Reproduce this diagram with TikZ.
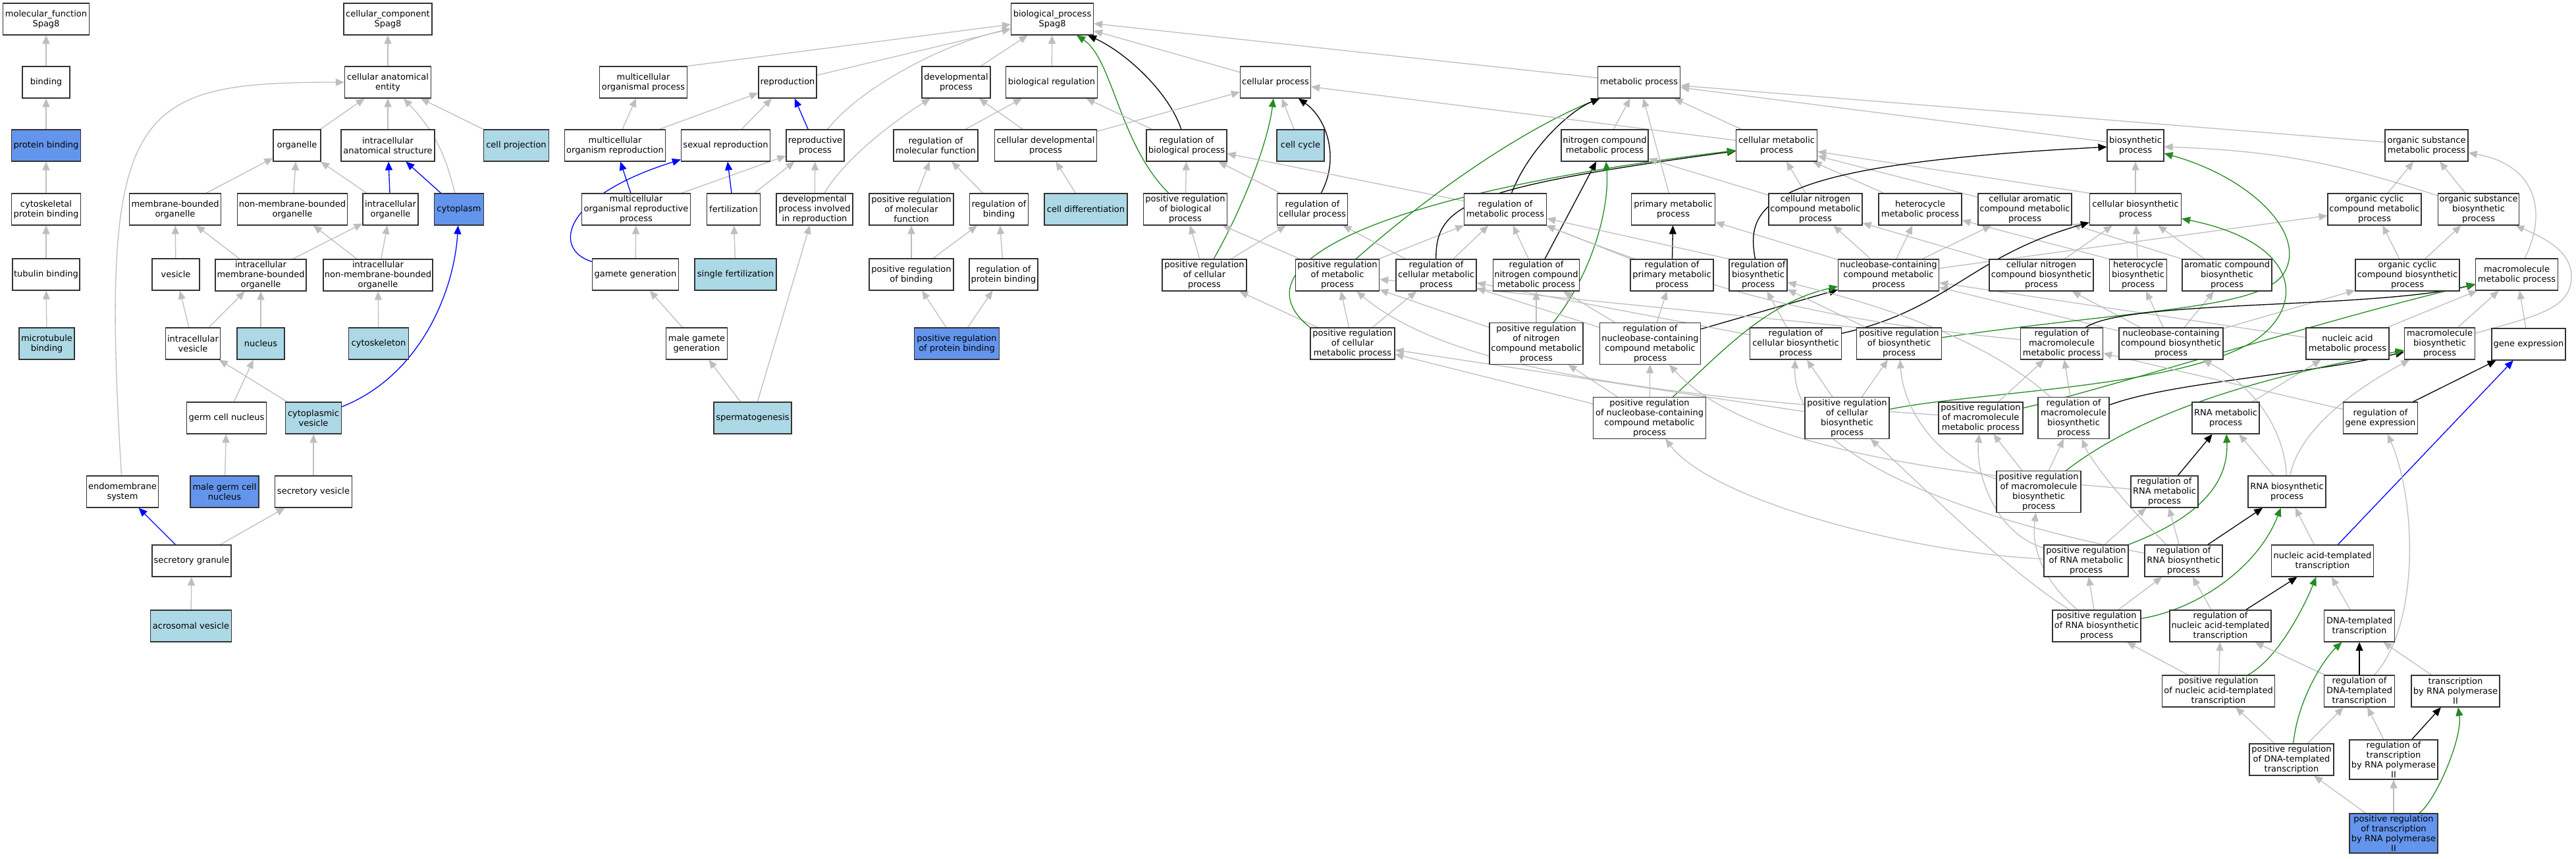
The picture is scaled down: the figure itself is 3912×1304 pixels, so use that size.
\documentclass[tikz,border=0pt]{standalone}
\usepackage{fontspec}
\setmainfont{DejaVu Sans}
\usetikzlibrary{arrows.meta,  % Triangle tips
                backgrounds,  % edges behind the boxes
               }
\definecolor{hitblue}{RGB}{100,149,237}
\definecolor{leafblue}{RGB}{173,216,230}
\definecolor{edgegray}{RGB}{190,190,190}
\definecolor{posgreen}{RGB}{34,139,34}
\tikzset{
  term/.style={rectangle, draw=black!80, line width=1.2pt, fill=white, align=center,
               inner xsep=2pt, inner ysep=2.5pt, minimum height=48pt,
               font=\fontsize{13}{15}\selectfont},
  hit/.style={term, fill=hitblue},
  leaf/.style={term, fill=leafblue},
  wd/.style={minimum width=#1pt},
  isa/.style={draw=edgegray, line width=1.3pt, -{Triangle[length=13pt,width=11pt]}},
  partof/.style={isa, draw=blue},
  regof/.style={isa, draw=black},
  posreg/.style={isa, draw=posgreen},
}
\begin{document}
\begin{tikzpicture}[x=1pt, y=-1pt] % pixel coordinates, y going down
  \useasboundingbox (0,0) rectangle (3912,1304);

  % molecular function
  \node[term, wd=131] (mf) at (70,29) {molecular\_function\\Spag8};
  \node[term, wd=72] (bind) at (70,125) {binding};
  \node[hit, wd=105] (pbind) at (70,221) {protein binding};
  \node[term, wd=105] (cpbind) at (70,318) {cytoskeletal\\protein binding};
  \node[term, wd=102] (tbind) at (70,417) {tubulin binding};
  \node[leaf, wd=84] (mtbind) at (71,522) {microtubule\\binding};

  % cellular component
  \node[term, wd=134] (cc) at (589,29) {cellular\_component\\Spag8};
  \node[term, wd=131] (cae) at (589,125) {cellular anatomical\\entity};
  \node[term, wd=72] (org) at (451,221) {organelle};
  \node[term, wd=142] (ias) at (589,221) {intracellular\\anatomical structure};
  \node[leaf, wd=99] (cproj) at (784,221) {cell projection};
  \node[term, wd=139] (mbo) at (266,318) {membrane-bounded\\organelle};
  \node[term, wd=167] (nmbo) at (444,318) {non-membrane-bounded\\organelle};
  \node[term, wd=84] (io) at (593,318) {intracellular\\organelle};
  \node[hit, wd=75] (cyto) at (697,318) {cytoplasm};
  \node[term, wd=72] (ves) at (267,417) {vesicle};
  \node[term, wd=138] (imbo) at (396,418) {intracellular\\membrane-bounded\\organelle};
  \node[term, wd=166] (inmbo) at (574,418) {intracellular\\non-membrane-bounded\\organelle};
  \node[term, wd=83] (ives) at (293,522) {intracellular\\vesicle};
  \node[leaf, wd=72] (nuc) at (396,522) {nucleus};
  \node[leaf, wd=91] (cskel) at (575,522) {cytoskeleton};
  \node[term, wd=121] (gcn) at (344,635) {germ cell nucleus};
  \node[leaf, wd=85] (cves) at (476,635) {cytoplasmic\\vesicle};
  \node[term, wd=109] (endo) at (186,747) {endomembrane\\system};
  \node[hit, wd=104] (mgcn) at (341,747) {male germ cell\\nucleus};
  \node[term, wd=117] (sves) at (476,747) {secretory vesicle};
  \node[term, wd=120] (sgran) at (291,852) {secretory granule};
  \node[leaf, wd=123] (acro) at (290,951) {acrosomal vesicle};

  % biological process
  \node[term, wd=125] (bp) at (1598,29) {biological\_process\\Spag8};
  \node[term, wd=133] (mop) at (977,125) {multicellular\\organismal process};
  \node[term, wd=88] (repro) at (1196,125) {reproduction};
  \node[term, wd=104] (dev) at (1452,125) {developmental\\process};
  \node[term, wd=139] (breg) at (1597,125) {biological regulation};
  \node[term, wd=107] (cp) at (1937,125) {cellular process};
  \node[term, wd=125] (mp) at (2489,125) {metabolic process};

  \node[term, wd=153] (mor) at (934,221) {multicellular\\organism reproduction};
  \node[term, wd=135] (sexr) at (1102,221) {sexual reproduction};
  \node[term, wd=88] (rp) at (1238,221) {reproductive\\process};
  \node[term, wd=128] (rmf) at (1421,221) {regulation of\\molecular function};
  \node[term, wd=155] (cdp) at (1588,221) {cellular developmental\\process};
  \node[term, wd=122] (rbp) at (1802,221) {regulation of\\biological process};
  \node[leaf, wd=72] (ccyc) at (1975,221) {cell cycle};
  \node[term, wd=132] (ncmp) at (2437,221) {nitrogen compound\\metabolic process};
  \node[term, wd=123] (cmp) at (2698,221) {cellular metabolic\\process};
  \node[term, wd=86] (bsp) at (3243,221) {biosynthetic\\process};
  \node[term, wd=126] (osmp) at (3685,221) {organic substance\\metabolic process};

  \node[term, wd=165] (morp) at (966,318) {multicellular\\organismal reproductive\\process};
  \node[term, wd=81] (fert) at (1114,318) {fertilization};
  \node[term, wd=116] (dpir) at (1237,318) {developmental\\process involved\\in reproduction};
  \node[term, wd=128] (prmf) at (1384,318) {positive regulation\\of molecular\\function};
  \node[term, wd=89] (rbind) at (1517,318) {regulation of\\binding};
  \node[leaf, wd=126] (cdiff) at (1649,318) {cell differentiation};
  \node[term, wd=127] (prbp) at (1800,318) {positive regulation\\of biological\\process};
  \node[term, wd=107] (rcp) at (1993,318) {regulation of\\cellular process};
  \node[term, wd=125] (rmp) at (2286,318) {regulation of\\metabolic process};
  \node[term, wd=127] (pmp) at (2541,318) {primary metabolic\\process};
  \node[term, wd=142] (cncmp) at (2757,318) {cellular nitrogen\\compound metabolic\\process};
  \node[term, wd=126] (hmp) at (2916,318) {heterocycle\\metabolic process};
  \node[term, wd=142] (camp) at (3075,318) {cellular aromatic\\compound metabolic\\process};
  \node[term, wd=139] (cbsp) at (3243,318) {cellular biosynthetic\\process};
  \node[term, wd=142] (occmp) at (3606,318) {organic cyclic\\compound metabolic\\process};
  \node[term, wd=123] (osbp) at (3764,318) {organic substance\\biosynthetic\\process};

  \node[term, wd=131] (gamg) at (965,417) {gamete generation};
  \node[leaf, wd=124] (sfert) at (1117,417) {single fertilization};
  \node[term, wd=128] (prbind) at (1384,417) {positive regulation\\of binding};
  \node[term, wd=104] (rpbind) at (1524,417) {regulation of\\protein binding};
  \node[term, wd=128] (prcp) at (1829,418) {positive regulation\\of cellular\\process};
  \node[term, wd=127] (prmp) at (2031,418) {positive regulation\\of metabolic\\process};
  \node[term, wd=122] (rcmp) at (2181,418) {regulation of\\cellular metabolic\\process};
  \node[term, wd=130] (rncmp) at (2333,418) {regulation of\\nitrogen compound\\metabolic process};
  \node[term, wd=126] (rpmp) at (2539,418) {regulation of\\primary metabolic\\process};
  \node[term, wd=88] (rbsp) at (2670,418) {regulation of\\biosynthetic\\process};
  \node[term, wd=153] (nccmp) at (2868,418) {nucleobase-containing\\compound metabolic\\process};
  \node[term, wd=158] (cncbp) at (3100,418) {cellular nitrogen\\compound biosynthetic\\process};
  \node[term, wd=87] (hbp) at (3247,418) {heterocycle\\biosynthetic\\process};
  \node[term, wd=136] (acbp) at (3382,418) {aromatic compound\\biosynthetic\\process};
  \node[term, wd=158] (occbp) at (3656,418) {organic cyclic\\compound biosynthetic\\process};
  \node[term, wd=125] (mmp) at (3822,417) {macromolecule\\metabolic process};

  \node[term, wd=93] (mgg) at (1058,522) {male gamete\\generation};
  \node[hit, wd=129] (prpbind) at (1453,522) {positive regulation\\of protein binding};
  \node[term, wd=128] (prcmp) at (2054,522) {positive regulation\\of cellular\\metabolic process};
  \node[term, wd=142] (prncmp) at (2333,522) {positive regulation\\of nitrogen\\compound metabolic\\process};
  \node[term, wd=153] (rnccmp) at (2506,522) {regulation of\\nucleobase-containing\\compound metabolic\\process};
  \node[term, wd=139] (rcbp) at (2727,522) {regulation of\\cellular biosynthetic\\process};
  \node[term, wd=129] (prbsp) at (2884,522) {positive regulation\\of biosynthetic\\process};
  \node[term, wd=125] (rmmp) at (3131,522) {regulation of\\macromolecule\\metabolic process};
  \node[term, wd=158] (nccbp) at (3297,522) {nucleobase-containing\\compound biosynthetic\\process};
  \node[term, wd=126] (namp) at (3565,522) {nucleic acid\\metabolic process};
  \node[term, wd=107] (mbp) at (3705,522) {macromolecule\\biosynthetic\\process};
  \node[term, wd=112] (gexp) at (3840,523) {gene expression};

  \node[leaf, wd=118] (sperm) at (1143,635) {spermatogenesis};
  \node[term, wd=171] (prnccmp) at (2505,635) {positive regulation\\of nucleobase-containing\\compound metabolic\\process};
  \node[term, wd=128] (prcbp) at (2805,635) {positive regulation\\of cellular\\biosynthetic\\process};
  \node[term, wd=128] (prmmp) at (3008,635) {positive regulation\\of macromolecule\\metabolic process};
  \node[term, wd=108] (rmbp) at (3149,635) {regulation of\\macromolecule\\biosynthetic\\process};
  \node[term, wd=102] (rnamp) at (3380,635) {RNA metabolic\\process};
  \node[term, wd=113] (rgexp) at (3615,635) {regulation of\\gene expression};

  \node[term, wd=128] (prmbp) at (3096,747) {positive regulation\\of macromolecule\\biosynthetic\\process};
  \node[term, wd=102] (rrnamp) at (3287,747) {regulation of\\RNA metabolic\\process};
  \node[term, wd=118] (rnabp) at (3473,747) {RNA biosynthetic\\process};

  \node[term, wd=128] (prrnamp) at (3168,852) {positive regulation\\of RNA metabolic\\process};
  \node[term, wd=118] (rrnabp) at (3316,852) {regulation of\\RNA biosynthetic\\process};
  \node[term, wd=155] (natt) at (3527,852) {nucleic acid-templated\\transcription};

  \node[term, wd=134] (prrnabp) at (3184,951) {positive regulation\\of RNA biosynthetic\\process};
  \node[term, wd=154] (rnatt) at (3372,951) {regulation of\\nucleic acid-templated\\transcription};
  \node[term, wd=107] (dtt) at (3583,951) {DNA-templated\\transcription};

  \node[term, wd=171] (prnatt) at (3369,1050) {positive regulation\\of nucleic acid-templated\\transcription};
  \node[term, wd=107] (rdtt) at (3583,1050) {regulation of\\DNA-templated\\transcription};
  \node[term, wd=134] (trp) at (3729,1050) {transcription\\by RNA polymerase\\II};

  \node[term, wd=128] (prdtt) at (3480,1154) {positive regulation\\of DNA-templated\\transcription};
  \node[term, wd=134] (rtrp) at (3635,1154) {regulation of\\transcription\\by RNA polymerase\\II};
  \node[hit, wd=134] (prtrp) at (3635,1266) {positive regulation\\of transcription\\by RNA polymerase\\II};

  \begin{pgfonlayer}{background}
  \fill[white] (0,0) rectangle (3912,1304);

  % molecular function
  \draw[isa] (bind) -- (mf);
  \draw[isa] (pbind) -- (bind);
  \draw[isa] (cpbind) -- (pbind);
  \draw[isa] (tbind) -- (cpbind);
  \draw[isa] (mtbind) -- (tbind);

  % cellular component
  \draw[isa] (cae) -- (cc);
  \draw[isa] (org) -- (cae);
  \draw[isa] (ias) -- (cae);
  \draw[isa] (cproj) -- (cae);
  \draw[isa] (cyto) to[bend right=15] (cae);
  \draw[isa] (endo) .. controls (150,160) and (200,125) .. (cae);
  \draw[isa] (mbo) -- (org);
  \draw[isa] (nmbo) -- (org);
  \draw[isa] (io) -- (org);
  \draw[partof] (io) -- (ias);
  \draw[partof] (cyto) -- (ias);
  \draw[isa] (ves) -- (mbo);
  \draw[isa] (imbo) -- (mbo);
  \draw[isa] (imbo) -- (io);
  \draw[isa] (inmbo) -- (nmbo);
  \draw[isa] (inmbo) -- (io);
  \draw[isa] (ives) -- (ves);
  \draw[isa] (ives) -- (imbo);
  \draw[isa] (nuc) -- (imbo);
  \draw[isa] (cskel) -- (inmbo);
  \draw[isa] (cves) -- (ives);
  \draw[partof] (cves) .. controls (640,570) and (690,440) .. (cyto);
  \draw[isa] (gcn) -- (nuc);
  \draw[isa] (mgcn) -- (gcn);
  \draw[isa] (sves) -- (cves);
  \draw[partof] (sgran) -- (endo);
  \draw[isa] (sgran) -- (sves);
  \draw[isa] (acro) -- (sgran);

  % biological process, upper part
  \draw[isa] (mop.north east) -- (bp);
  \draw[isa] (repro) -- (bp);
  \draw[isa] (rp) .. controls (1300,140) and (1420,70) .. (bp);
  \draw[isa] (dev) -- (bp);
  \draw[isa] (breg) -- (bp);
  \draw[isa] (cp) -- (bp);
  \draw[isa] (mp) -- (bp);
  \draw[regof] (rbp) .. controls (1775,140) and (1710,80) .. (bp);
  \draw[posreg] (prbp) .. controls (1700,220) and (1690,90) .. (bp);
  \draw[isa] (mor) -- (mop);
  \draw[isa] (mor) -- (repro);
  \draw[isa] (sexr) -- (repro);
  \draw[partof] (rp) -- (repro);
  \draw[isa] (rmf) -- (breg);
  \draw[isa] (rbp) -- (breg);
  \draw[isa] (cdp) -- (dev);
  \draw[isa] (cdp) -- (cp);
  \draw[partof] (morp) -- (mor);
  \draw[isa] (morp) -- (rp);
  \draw[partof] (fert) -- (sexr);
  \draw[isa] (fert) -- (rp);
  \draw[isa] (dpir) -- (rp);
  \draw[isa] (dpir) .. controls (1290,230) and (1380,170) .. (dev);
  \draw[isa] (prmf) -- (rmf);
  \draw[isa] (rbind) -- (rmf);
  \draw[isa] (cdiff) -- (cdp);
  \draw[isa] (gamg) -- (morp);
  \draw[partof] (gamg) .. controls (840,380) and (850,300) .. (sexr);
  \draw[isa] (sfert) -- (fert);
  \draw[isa] (prbind) -- (prmf);
  \draw[isa] (prbind) -- (rbind);
  \draw[isa] (rpbind) -- (rbind);
  \draw[isa] (mgg) -- (gamg);
  \draw[isa] (prpbind) -- (prbind);
  \draw[isa] (prpbind) -- (rpbind);
  \draw[isa] (sperm) -- (mgg);
  \draw[isa] (sperm) -- (dpir);

  % cellular and metabolic regulation
  \draw[isa] (ccyc) -- (cp);
  \draw[regof] (rcp) .. controls (2035,240) and (2015,180) .. (cp);
  \draw[posreg] (prcp) .. controls (1885,320) and (1925,220) .. (cp);
  \draw[isa] (prbp) -- (rbp);
  \draw[isa] (rcp) -- (rbp);
  \draw[isa] (rmp) -- (rbp);
  \draw[isa] (prcp) -- (prbp);
  \draw[isa] (prcp) -- (rcp);
  \draw[isa] (prmp) -- (prbp);
  \draw[isa] (prmp) -- (rmp);
  \draw[posreg] (prmp) .. controls (2200,270) and (2330,190) .. (mp);
  \draw[regof] (rmp) .. controls (2320,230) and (2380,170) .. (mp);
  \draw[isa] (rcmp) -- (rcp);
  \draw[isa] (rcmp) -- (rmp);
  \draw[regof] (rcmp) .. controls (2180,310) and (2230,285) .. (cmp);
  \draw[isa] (rncmp) -- (rmp);
  \draw[regof] (rncmp) -- (ncmp);
  \draw[isa] (prcmp) -- (prcp);
  \draw[isa] (prcmp) -- (prmp);
  \draw[isa] (prcmp) -- (rcmp);
  \draw[posreg] (prcmp.north west) .. controls (1880,410) and (2050,300) .. (cmp);
  \draw[isa] (prncmp) -- (rncmp);
  \draw[isa] (prncmp) -- (prmp);
  \draw[posreg] (prncmp) .. controls (2415,420) and (2445,320) .. (ncmp);

  % metabolic process
  \draw[isa] (ncmp) -- (mp);
  \draw[isa] (cmp) -- (mp);
  \draw[isa] (cmp) -- (cp);
  \draw[isa] (pmp) -- (mp);
  \draw[isa] (osmp) -- (mp);
  \draw[isa] (bsp) -- (mp);
  \draw[isa] (cncmp) -- (cmp);
  \draw[isa] (cncmp) -- (ncmp);
  \draw[isa] (hmp) -- (cmp);
  \draw[isa] (camp) -- (cmp);
  \draw[isa] (cbsp.north west) -- (cmp);
  \draw[isa] (cbsp) -- (bsp);
  \draw[isa] (occmp) -- (osmp);
  \draw[isa] (osbp) -- (osmp);
  \draw[isa] (osbp) to[bend right=8] (bsp);
  \draw[isa] (mmp) .. controls (3870,320) and (3850,250) .. (osmp);
  \draw[isa] (nccmp) -- (cncmp);
  \draw[isa] (nccmp) -- (hmp);
  \draw[isa] (nccmp) -- (camp);
  \draw[isa] (nccmp) -- (occmp);
  \draw[isa] (nccmp) -- (pmp);
  \draw[isa] (cncbp) -- (cncmp);
  \draw[isa] (cncbp) -- (cbsp);
  \draw[isa] (hbp.north west) -- (hmp);
  \draw[isa] (hbp) -- (cbsp);
  \draw[isa] (acbp.north west) -- (camp);
  \draw[isa] (acbp) -- (cbsp);
  \draw[isa] (occbp) -- (occmp);
  \draw[isa] (occbp) -- (osbp);
  \draw[isa] (nccbp) -- (nccmp);
  \draw[isa] (nccbp) -- (cncbp);
  \draw[isa] (nccbp) -- (hbp);
  \draw[isa] (nccbp) -- (acbp);
  \draw[isa] (nccbp) -- (occbp);
  \draw[isa] (namp) -- (nccmp);
  \draw[isa] (namp) -- (mmp);
  \draw[isa] (mbp) -- (mmp);
  \draw[isa] (mbp) .. controls (3850,480) and (3905,470) .. (3905,420) .. controls (3905,380) and (3860,360) .. (osbp);
  \draw[isa] (gexp) -- (mmp);

  % regulation of metabolism
  \draw[isa] (rpmp) -- (rmp);
  \draw[regof] (rpmp) -- (pmp);
  \draw[isa] (rbsp.north west) -- (rmp);
  \draw[regof] (rbsp) .. controls (2650,310) and (2680,250) .. (bsp);
  \draw[isa] (rnccmp) -- (rpmp);
  \draw[isa] (rnccmp) -- (rcmp);
  \draw[isa] (rnccmp) -- (rncmp);
  \draw[regof] (rnccmp) -- (nccmp);
  \draw[isa] (rcbp) -- (rbsp);
  \draw[isa] (rcbp) -- (rcmp);
  \draw[regof] (rcbp) .. controls (2960,470) and (2990,390) .. (cbsp);
  \draw[isa] (prbsp) -- (rbsp);
  \draw[isa] (prbsp.north west) -- (prmp);
  \draw[posreg] (prbsp) .. controls (3250,470) and (3420,470) .. (3465,420) .. controls (3510,360) and (3420,270) .. (bsp);
  \draw[isa] (rmmp) to[bend left=8] (rmp);
  \draw[regof] (rmmp) .. controls (3230,455) and (3600,470) .. (mmp);
  \draw[isa] (prnccmp) -- (rnccmp);
  \draw[isa] (prnccmp) -- (prcmp);
  \draw[isa] (prnccmp) -- (prncmp);
  \draw[posreg] (prnccmp) .. controls (2610,540) and (2680,460) .. (nccmp);
  \draw[isa] (prcbp) -- (rcbp);
  \draw[isa] (prcbp) -- (prbsp);
  \draw[isa] (prcbp) -- (prcmp);
  \draw[posreg] (prcbp) .. controls (3000,595) and (3300,590) .. (3420,520) .. controls (3500,470) and (3500,370) .. (cbsp);
  \draw[isa] (prmmp) -- (rmmp);
  \draw[isa] (prmmp) .. controls (2500,600) and (2200,560) .. (prmp);
  \draw[posreg] (prmmp) .. controls (3200,590) and (3550,480) .. (mmp);
  \draw[isa] (rmbp) -- (rmmp);
  \draw[isa] (rmbp) .. controls (3000,500) and (2800,450) .. (rbsp);
  \draw[regof] (rmbp) .. controls (3300,580) and (3500,570) .. (mbp);
  \draw[isa] (rnamp) -- (namp);
  \draw[isa] (rgexp) -- (rmmp);
  \draw[regof] (rgexp) -- (gexp);

  % RNA and transcription
  \draw[isa] (prmbp) -- (prmmp);
  \draw[isa] (prmbp) -- (rmbp);
  \draw[isa] (prmbp) .. controls (2940,700) and (2890,620) .. (prbsp);
  \draw[posreg] (prmbp) .. controls (3260,620) and (3450,570) .. (mbp);
  \draw[isa] (rrnamp) .. controls (2950,720) and (2650,680) .. (rnccmp);
  \draw[regof] (rrnamp) -- (rnamp);
  \draw[isa] (rnabp) -- (rnamp);
  \draw[isa] (rnabp) .. controls (3470,660) and (3430,590) .. (nccbp);
  \draw[isa] (rnabp) .. controls (3490,660) and (3560,600) .. (mbp);
  \draw[isa] (prrnamp) -- (rrnamp);
  \draw[isa] (prrnamp) .. controls (2900,840) and (2600,760) .. (prnccmp);
  \draw[isa] (prrnamp) .. controls (3030,810) and (3000,720) .. (prmmp);
  \draw[posreg] (prrnamp) .. controls (3330,790) and (3385,740) .. (rnamp);
  \draw[isa] (rrnabp) -- (rrnamp);
  \draw[isa] (rrnabp) .. controls (3230,770) and (3175,700) .. (rmbp);
  \draw[isa] (rrnabp) .. controls (3100,810) and (2720,720) .. (rcbp);
  \draw[regof] (rrnabp) -- (rnabp);
  \draw[isa] (natt) -- (rnabp);
  \draw[partof] (natt) -- (gexp);
  \draw[isa] (prrnabp) -- (prrnamp);
  \draw[isa] (prrnabp) -- (rrnabp);
  \draw[isa] (prrnabp) .. controls (3100,880) and (3085,830) .. (prmbp);
  \draw[isa] (prrnabp) .. controls (3050,870) and (2900,720) .. (prcbp);
  \draw[posreg] (prrnabp) .. controls (3340,925) and (3430,860) .. (rnabp);
  \draw[isa] (rnatt) -- (rrnabp);
  \draw[regof] (rnatt) -- (natt);
  \draw[isa] (dtt) -- (natt);
  \draw[isa] (prnatt) -- (prrnabp);
  \draw[isa] (prnatt) -- (rnatt);
  \draw[posreg] (prnatt) .. controls (3460,1000) and (3500,920) .. (natt);
  \draw[isa] (rdtt) -- (rnatt);
  \draw[isa] (rdtt) .. controls (3675,950) and (3670,760) .. (rgexp);
  \draw[regof] (rdtt) -- (dtt);
  \draw[isa] (trp) -- (dtt);
  \draw[isa] (prdtt) -- (prnatt);
  \draw[isa] (prdtt) -- (rdtt);
  \draw[posreg] (prdtt) .. controls (3490,1060) and (3530,1000) .. (dtt);
  \draw[isa] (rtrp) -- (rdtt);
  \draw[regof] (rtrp) -- (trp);
  \draw[isa] (prtrp) -- (prdtt);
  \draw[isa] (prtrp) -- (rtrp);
  \draw[posreg] (prtrp) .. controls (3700,1215) and (3740,1120) .. (trp);
  \end{pgfonlayer}
\end{tikzpicture}
\end{document}
